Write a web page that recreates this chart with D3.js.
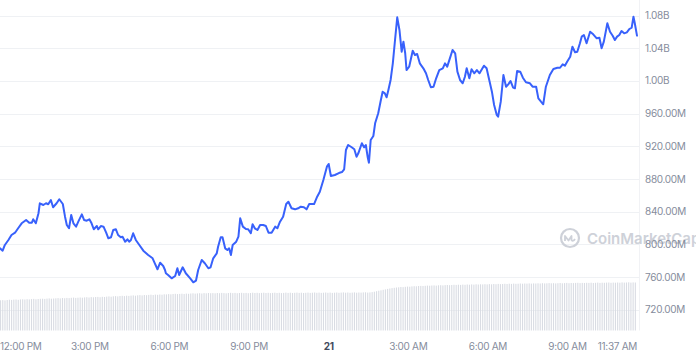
<!DOCTYPE html>
<html><head><meta charset="utf-8">
<script src="https://cdn.jsdelivr.net/npm/d3@7"></script>
<style>html,body{margin:0;padding:0;background:#fff;} svg{display:block;font-family:Inter,"Noto Sans",sans-serif;}</style>
</head><body><svg id="chart" width="696" height="356"></svg>
<script>
// ---- data ----
const startTime = "2024-01-20T11:37";
const endTime = "2024-01-21T11:37";
// minutes after startTime
const minutes = [
0,6,11,19,26,34,41,49,59,66,72,75,81,87,90,98,104,109,115,120,
128,134,142,147,151,156,161,166,172,177,185,190,196,202,207,212,219,222,228,234,
240,245,251,256,262,267,273,277,283,288,292,296,301,307,315,324,335,345,350,356,
362,369,373,
375,380,388,396,401,405,413,420,430,437,443,448,456,463,471,476,482,490,493,499,
503,509,514,518,522,526,534,539,543,549,556,561,567,571,576,582,588,595,601,607,
614,622,627,633,640,647,652,659,667,674,680,687,693,699,710,717,723,731,739,743,
748,757,766,773,778,782,787,795,801,806,810,818,823,827,831,834,838,844,848,855,
861,865,870,874,878,883,888,893,898,903,908,912,916,919,925,933,938,943,949,957,
963,968,974,980,986,993,1001,1006,1011,1017,1023,1029,1034,1040,1046,1051,1055,1061,1066,1072,
1078,1084,1094,1100,1106,1112,1117,1123,1126,1132,1138,1144,1149,1154,1160,1164,1169,1176,1182,1189,
1198,1204,1212,1217,1223,1228,1234,1243,1251,1260,1266,1272,1277,1282,1289,1294,1300,1305,1311,1315,
1320,1326,1334,1341,1349,1355,1360,1365,1373,1379,1385,1390,1395,1400,1405,1411,1417,1423,1428,1432,
1435,1440
];
// value in millions
const prices = [
795.2,792.3,799.3,805.4,811.5,814.3,819.7,825.8,829.9,826.6,826.6,830.7,825.8,838.1,850.3,848.2,850.3,849.1,854.3,845.4,
850.3,855.2,849.4,833.9,823.7,819.7,836.0,825.8,821.7,827.8,836.8,829.9,829.0,830.7,825.8,818.5,822.5,818.5,822.5,821.7,
814.3,807.5,808.7,817.6,818.5,811.5,808.7,809.4,803.3,806.2,803.3,805.4,813.6,805.4,799.3,792.3,787.0,783.0,776.9,769.6,
777.6,773.6,768.7,
764.7,762.6,758.5,761.4,770.8,762.6,772.0,764.7,758.5,753.6,755.6,768.7,780.9,776.9,770.8,772.0,783.0,789.1,797.2,808.7,
808.7,795.2,793.2,795.2,787.0,799.3,803.3,809.4,831.9,821.7,818.8,818.5,813.6,824.6,819.7,817.6,823.7,823.7,822.5,814.3,
814.3,821.7,819.7,827.8,833.9,849.4,852.2,844.2,842.9,844.2,846.1,845.4,842.9,849.4,849.4,858.4,864.5,878.8,895.1,898.4,
883.7,884.9,887.3,888.5,891.9,915.5,921.6,918.8,916.3,907.3,911.4,923.7,918.8,921.6,907.3,899.9,927.7,932.6,948.1,960.4,
976.6,986.8,984.8,979.9,988.9,1001.1,1021.5,1050.0,1077.8,1062.3,1035.7,1048.0,1033.8,1013.3,1017.4,1036.9,1031.7,1032.9,1021.5,1015.4,
1009.3,1001.1,992.2,992.9,1003.2,1013.3,1015.4,1021.5,1017.4,1027.6,1037.8,1033.8,1011.3,1001.1,997.1,1005.1,1015.4,1003.2,1014.2,1009.3,
1013.3,1009.3,1018.6,1015.4,1001.1,986.8,970.5,958.3,956.2,974.6,1007.2,992.9,995.8,999.9,991.7,990.9,1012.1,1011.3,1003.9,998.3,
997.1,992.9,992.9,978.7,974.6,971.4,992.9,1007.2,1014.6,1016.1,1016.1,1020.3,1018.6,1023.5,1029.6,1041.8,1035.0,1035.7,1046.0,1054.1,
1056.1,1046.0,1060.2,1057.0,1052.1,1052.8,1039.9,1048.0,1070.5,1060.2,1055.3,1050.0,1054.1,1056.1,1061.0,1058.2,1059.4,1063.5,1065.1,1078.5,
1070.5,1055.3
];
// 5-minute volume bars (billions), one row per hour
const volumes = [
30.2,30.4,30.1,30.5,30.8,30.6,30.9,31.0,30.7,31.1,31.2,31.0,
31.3,31.1,31.4,31.6,31.2,31.5,31.7,31.8,31.6,31.9,32.1,31.8,
32.0,32.2,32.4,32.1,32.5,32.3,32.6,32.4,32.7,32.9,32.6,32.8,
33.0,32.8,33.1,33.3,33.0,33.4,33.2,33.5,33.6,33.3,33.7,33.5,
33.9,34.1,33.8,34.2,34.4,34.1,34.5,34.7,34.4,34.8,34.6,34.9,
35.1,34.8,35.2,35.4,35.1,35.5,35.3,35.6,35.8,35.5,35.9,35.7,
36.0,35.8,36.2,36.1,36.4,36.2,36.5,36.7,36.4,36.6,36.8,36.5,
36.9,36.7,37.0,37.2,36.9,37.1,37.3,37.0,37.4,37.2,37.5,37.3,
37.4,37.2,37.5,37.3,37.6,37.4,37.2,37.5,37.7,37.4,37.6,37.3,
37.5,37.7,37.4,37.6,37.3,37.5,37.8,37.5,37.7,37.4,37.6,37.8,
37.5,37.7,37.4,37.6,37.8,37.5,37.7,37.4,37.6,37.9,37.6,37.8,
37.5,37.7,37.9,37.6,37.8,37.5,37.7,37.9,37.6,37.8,38.0,37.7,
37.9,37.6,37.8,38.0,37.7,37.9,37.6,37.8,38.0,37.7,37.9,38.1,
37.8,38.0,37.7,37.9,38.1,37.8,38.0,37.9,38.1,38.2,37.9,38.1,
38.4,38.8,39.3,39.8,40.2,40.7,41.1,41.6,42.0,42.4,42.7,43.0,
43.2,43.5,43.4,43.7,43.9,43.8,44.1,44.3,44.2,44.5,44.6,44.5,
44.7,44.9,44.8,45.0,45.1,44.9,45.2,45.3,45.1,45.4,45.5,45.3,
45.5,45.7,45.6,45.8,45.6,45.9,45.7,46.0,45.8,46.1,45.9,46.2,
46.0,46.2,46.1,46.3,46.1,46.4,46.2,46.5,46.3,46.6,46.4,46.5,
46.7,46.5,46.8,46.6,46.9,46.7,46.8,47.0,46.8,47.0,46.9,47.1,
46.9,47.1,47.0,47.2,47.0,47.3,47.1,47.2,47.4,47.2,47.3,47.1,
47.3,47.5,47.2,47.4,47.6,47.3,47.5,47.4,47.6,47.7,47.4,47.6,
47.5,47.7,47.6,47.8,47.5,47.7,47.9,47.6,47.8,47.7,47.9,48.0,
47.7,47.9,47.8,48.0,47.8,48.1,47.9,48.0,48.2,47.9,48.1,48.0
];
const yTicks = [720,760,800,840,880,920,960,1000,1040,1080];
const xTickTimes = ["2024-01-20T12:00","2024-01-20T15:00","2024-01-20T18:00","2024-01-20T21:00","2024-01-21T00:00","2024-01-21T03:00","2024-01-21T06:00","2024-01-21T09:00","2024-01-21T11:37"];
const xTickLabels = ["12:00 PM","3:00 PM","6:00 PM","9:00 PM","21","3:00 AM","6:00 AM","9:00 AM","11:37 AM"];

// ---- chart ----
const plotLeft = 0, plotRight = 637, plotTop = 15.5, plotBottom = 309.8;
const volBottom = 330.5;
const parse = d3.timeParse("%Y-%m-%dT%H:%M");
const t0 = parse(startTime), t1 = parse(endTime);
const svg = d3.select("#chart");

const x = d3.scaleTime().domain([t0, t1]).range([plotLeft, plotRight]);
const y = d3.scaleLinear().domain([720, 1080]).range([plotBottom, plotTop]);
const yVol = d3.scaleLinear().domain([0, 50]).range([volBottom, volBottom - 50]);

const series = minutes.map((m, i) => ({t: d3.timeMinute.offset(t0, m), v: prices[i]}));
const volData = volumes.map((v, i) => ({t: d3.timeMinute.offset(t0, i * 5), v}));

// grid
svg.append("g").selectAll("line").data(yTicks).join("line")
  .attr("x1", plotLeft).attr("x2", plotRight + 2)
  .attr("y1", d => Math.round(y(d)) + 0.5).attr("y2", d => Math.round(y(d)) + 0.5)
  .attr("stroke", "#eff1f4").attr("stroke-width", 1);
svg.append("line").attr("x1", plotRight + 2.5).attr("x2", plotRight + 2.5)
  .attr("y1", 0).attr("y2", volBottom).attr("stroke", "#f1f2f5");

// watermark
const wm = svg.append("g").attr("transform", "translate(570,238)").attr("opacity", 0.9);
wm.append("circle").attr("r", 9).attr("fill", "none").attr("stroke", "#c9cdd5").attr("stroke-width", 2.2);
wm.append("path").attr("d", "M-5,3 L-5,-2 L-1.5,2.5 L1.5,-2 L1.5,2 Q3,4 5,1")
  .attr("fill", "none").attr("stroke", "#c9cdd5").attr("stroke-width", 1.8).attr("stroke-linejoin", "round");
wm.append("text").attr("x", 17).attr("y", 5.5).text("CoinMarketCap")
  .attr("font-size", 15).attr("font-weight", 600).attr("fill", "#c9cdd5");

// volume bars
svg.append("g").selectAll("rect").data(volData).join("rect")
  .attr("x", d => x(d.t)).attr("width", 1.1)
  .attr("y", d => yVol(d.v)).attr("height", d => volBottom - yVol(d.v))
  .attr("fill", "#d9dce3");

// line
svg.append("path").datum(series)
  .attr("fill", "none").attr("stroke", "#3861fb").attr("stroke-width", 2)
  .attr("stroke-linejoin", "round").attr("stroke-linecap", "round")
  .attr("d", d3.line().x(d => x(d.t)).y(d => y(d.v)));

// y axis labels (right)
const fmt = v => v >= 1000 ? (v / 1000).toFixed(2) + "B" : v.toFixed(2) + "M";
svg.append("g").selectAll("text").data(yTicks).join("text")
  .attr("x", 645).attr("y", d => y(d)).attr("dy", "0.35em")
  .attr("font-size", 10).attr("letter-spacing", "-0.3px").attr("fill", "#858c9c").text(fmt);

// x axis labels
const xg = svg.append("g");
xTickTimes.forEach((s, i) => {
  const t = parse(s);
  const txt = xg.append("text").attr("y", 349.5).attr("font-size", 10)
    .attr("letter-spacing", "-0.3px")
    .attr("fill", i === 4 ? "#414a5c" : "#858c9c")
    .attr("font-weight", i === 4 ? 700 : 400)
    .text(xTickLabels[i]);
  const w = txt.node().getComputedTextLength();
  let px = x(t) - w / 2;
  if (px < 0) px = 0;
  if (px + w > plotRight) px = plotRight - w;
  txt.attr("x", px);
});
</script>
</body></html>
